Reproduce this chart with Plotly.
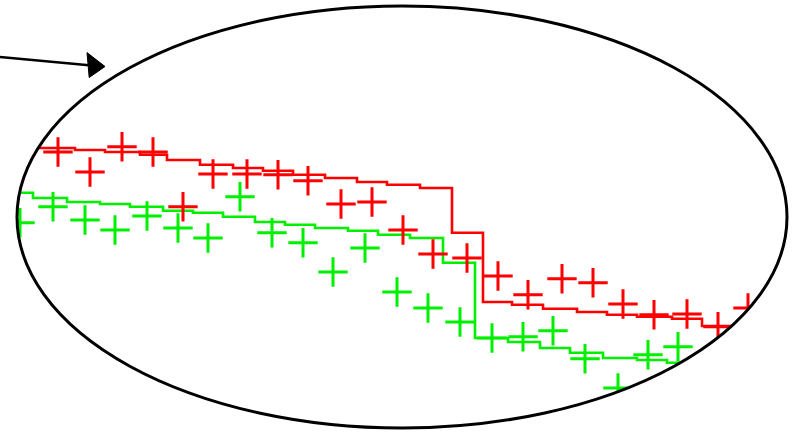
import numpy as np
import plotly.graph_objects as go

# Kaplan-Meier style step curves (time in months, survival in %)
red_time = [3.0, 7.5, 10.5, 14.0, 16.7, 20.0, 23.3, 26.3, 29.3, 32.5, 35.7, 38.7,
            42.0, 45.2, 48.3, 51.2, 54.3, 57.7, 60.7, 63.7, 67.2, 70.2, 76.0]
red_surv = [71.0, 70.5, 70.0, 69.3, 68.0, 66.8, 66.0, 65.3, 64.3, 63.5, 62.5, 61.8,
            61.0, 49.8, 32.5, 31.8, 30.8, 30.0, 29.3, 28.8, 28.3, 26.5, 26.5]

green_time = [1.0, 3.3, 6.7, 10.0, 13.0, 16.3, 19.3, 22.3, 25.5, 28.5, 31.5, 34.8,
              37.8, 41.0, 44.3, 47.5, 50.8, 54.0, 57.0, 60.3, 63.7, 66.7, 72.0]
green_surv = [59.8, 58.5, 57.5, 57.0, 56.3, 55.3, 54.8, 53.8, 52.5, 51.8, 51.0, 50.3,
              49.3, 48.5, 42.3, 23.5, 22.5, 21.0, 19.8, 18.5, 18.0, 17.3, 17.3]

# Observed points drawn as crosses
red_pts_time = [5.8, 9.0, 12.2, 15.3, 18.3, 21.3, 24.7, 27.8, 30.8, 34.1, 37.2, 40.3,
                43.3, 46.7, 49.8, 52.8, 56.2, 59.3, 62.3, 65.4, 68.7, 71.8, 74.8]
red_pts_surv = [70.0, 65.0, 71.3, 70.0, 56.3, 64.5, 64.5, 64.3, 62.8, 57.0, 57.5, 50.5,
                44.5, 43.5, 39.0, 34.3, 38.3, 37.3, 32.0, 29.3, 29.5, 26.3, 31.0]

green_pts_time = [2.0, 5.3, 8.5, 11.5, 14.7, 17.8, 20.8, 24.0, 27.2, 30.3, 33.3, 36.5,
                  39.7, 42.8, 46.0, 49.2, 52.3, 55.3, 58.5, 61.8, 64.8, 67.8]
green_pts_surv = [52.3, 56.3, 53.0, 50.5, 54.0, 51.0, 48.5, 58.8, 49.8, 47.3, 40.0, 46.0,
                  35.0, 31.0, 27.5, 23.5, 23.8, 25.3, 18.3, 11.0, 19.3, 21.3]

RED = "#ff0000"
GREEN = "#00f000"

fig = go.Figure()

fig.add_trace(go.Scatter(x=red_time, y=red_surv, mode="lines", line_shape="hv",
                         line=dict(color=RED, width=2.6)))
fig.add_trace(go.Scatter(x=green_time, y=green_surv, mode="lines", line_shape="hv",
                         line=dict(color=GREEN, width=2.6)))

cross = dict(symbol="cross-thin", size=21)
fig.add_trace(go.Scatter(x=red_pts_time, y=red_pts_surv, mode="markers",
                         marker=dict(**cross, color=RED, line=dict(color=RED, width=3))))
fig.add_trace(go.Scatter(x=green_pts_time, y=green_pts_surv, mode="markers",
                         marker=dict(**cross, color=GREEN, line=dict(color=GREEN, width=3))))

# Elliptical magnifier: white mask outside the lens, then its outline
cx, cy, rx, ry = 40.2, 53.75, 38.5, 52.75
theta = np.linspace(0, 2 * np.pi, 241)
ex = cx + rx * np.cos(theta)
ey = cy + ry * np.sin(theta)
ellipse_path = "M" + " L".join(f"{a:.3f},{b:.3f}" for a, b in zip(ex, ey)) + " Z"
mask_path = "M-20,-20 L100,-20 L100,130 L-20,130 Z " + ellipse_path

shapes = [
    dict(type="path", path=mask_path, xref="x", yref="y", fillcolor="white",
         fillrule="evenodd", line=dict(width=0), layer="above"),
    dict(type="circle", xref="x", yref="y", x0=cx - rx, x1=cx + rx,
         y0=cy - ry, y1=cy + ry, line=dict(color="black", width=3), layer="above"),
    # pointer arrow
    dict(type="line", xref="x", yref="y", x0=0.0, y0=93.75, x1=8.9, y1=91.7,
         line=dict(color="black", width=2.5), layer="above"),
    dict(type="path", xref="x", yref="y",
         path="M10.5,91.375 L8.70,94.85 L8.92,88.625 Z",
         fillcolor="black", line=dict(color="black", width=1), layer="above"),
]

fig.update_layout(
    width=794, height=432,
    margin=dict(l=0, r=0, t=0, b=0),
    paper_bgcolor="white", plot_bgcolor="white",
    showlegend=False,
    xaxis=dict(range=[0, 79.4], visible=False, fixedrange=True),
    yaxis=dict(range=[0, 108], visible=False, fixedrange=True),
    shapes=shapes,
)

fig.write_html("out.html", config={"displayModeBar": False})
